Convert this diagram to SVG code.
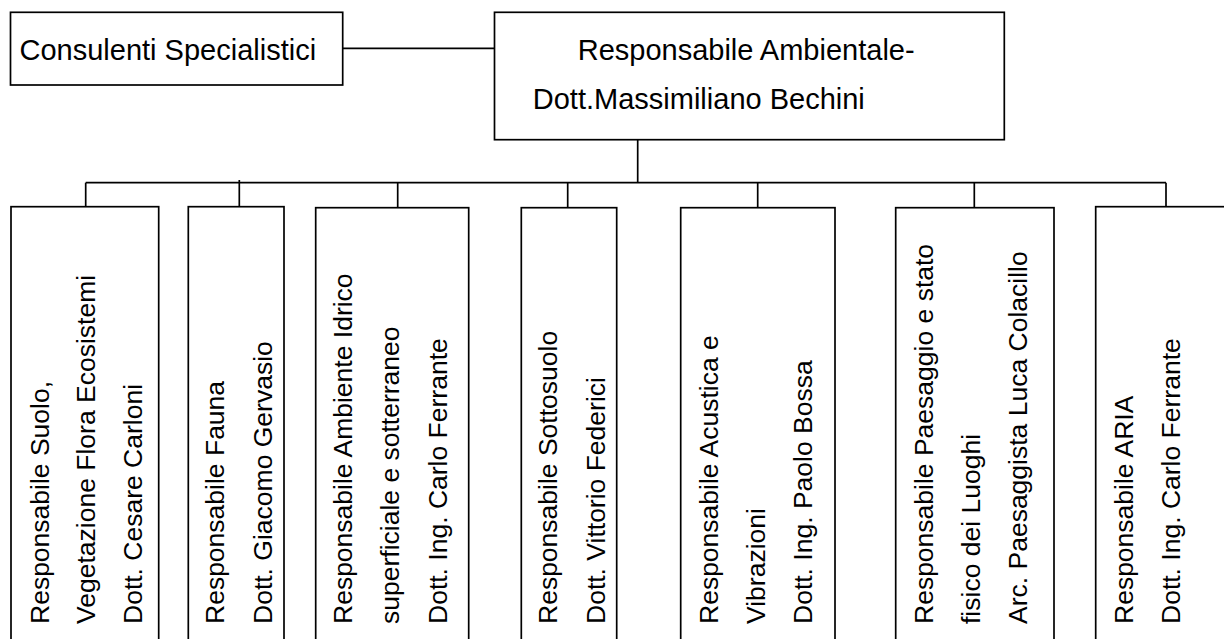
<svg xmlns="http://www.w3.org/2000/svg" width="1224" height="639" viewBox="0 0 1224 639">
<style>
.box{fill:#fff;stroke:#000;stroke-width:1.7}
.ln{fill:none;stroke:#000;stroke-width:1.7}
.h{font-family:"Liberation Sans",Arial,sans-serif;font-size:29px;fill:#000}
.v{font-family:"Liberation Sans",Arial,sans-serif;font-size:26.5px;fill:#000}
</style>
<rect width="1224" height="639" fill="#fff"/>
<g id="connectors">
<path class="ln" d="M342.7 48.3H494.5"/>
<path class="ln" d="M637.7 139.7V182.7"/>
<path class="ln" d="M85.7 182.7H1166"/>
<path class="ln" d="M85.7 182.7V206.7"/>
<path class="ln" d="M239.3 180V206.7"/>
<path class="ln" d="M397.7 182.7V207.7"/>
<path class="ln" d="M567.7 182.7V207.7"/>
<path class="ln" d="M757.7 182.7V207.7"/>
<path class="ln" d="M974.3 182.7V207.7"/>
<path class="ln" d="M1166 182.7V206.7"/>
</g>
<g id="consulenti">
<rect class="box" x="10.5" y="12.3" width="332.2" height="72.7"/>
<text class="h" x="19.5" y="60">Consulenti Specialistici</text>
</g>
<g id="responsabile-ambientale">
<rect class="box" x="494.5" y="12.3" width="509.8" height="127.4"/>
<text class="h" x="577.7" y="59.5">Responsabile Ambientale-</text>
<text class="h" x="532.8" y="109">Dott.Massimiliano Bechini</text>
</g>
<g id="suolo">
<rect class="box" x="11" y="206.7" width="147.7" height="460"/>
<text class="v" transform="translate(48.5,624) rotate(-90)">Responsabile Suolo,</text>
<text class="v" transform="translate(95,624) rotate(-90)">Vegetazione Flora Ecosistemi</text>
<text class="v" transform="translate(141.7,624) rotate(-90)">Dott. Cesare Carloni</text>
</g>
<g id="fauna">
<rect class="box" x="188.3" y="206.7" width="95.7" height="460"/>
<text class="v" transform="translate(224,624) rotate(-90)">Responsabile Fauna</text>
<text class="v" transform="translate(271.7,624) rotate(-90)">Dott. Giacomo Gervasio</text>
</g>
<g id="idrico">
<rect class="box" x="315.7" y="207.7" width="153" height="460"/>
<text class="v" transform="translate(351.7,624) rotate(-90)">Responsabile Ambiente Idrico</text>
<text class="v" transform="translate(399,624) rotate(-90)">superficiale e sotterraneo</text>
<text class="v" transform="translate(446.7,624) rotate(-90)">Dott. Ing. Carlo Ferrante</text>
</g>
<g id="sottosuolo">
<rect class="box" x="521.3" y="207.7" width="95.4" height="460"/>
<text class="v" transform="translate(557.3,624) rotate(-90)">Responsabile Sottosuolo</text>
<text class="v" transform="translate(605,624) rotate(-90)">Dott. Vittorio Federici</text>
</g>
<g id="acustica">
<rect class="box" x="680.7" y="207.7" width="154.3" height="460"/>
<text class="v" transform="translate(717.7,624) rotate(-90)">Responsabile Acustica e</text>
<text class="v" transform="translate(765,624) rotate(-90)">Vibrazioni</text>
<text class="v" transform="translate(812.3,624) rotate(-90)">Dott. Ing. Paolo Bossa</text>
</g>
<g id="paesaggio">
<rect class="box" x="895.7" y="207.7" width="158.3" height="460"/>
<text class="v" transform="translate(932.7,624) rotate(-90)">Responsabile Paesaggio e stato</text>
<text class="v" transform="translate(980,624) rotate(-90)">fisico dei Luoghi</text>
<text class="v" transform="translate(1026.7,624) rotate(-90)">Arc. Paesaggista Luca Colacillo</text>
</g>
<g id="aria">
<rect class="box" x="1095.7" y="206.7" width="200" height="460"/>
<text class="v" transform="translate(1132.7,624) rotate(-90)">Responsabile ARIA</text>
<text class="v" transform="translate(1180,624) rotate(-90)">Dott. Ing. Carlo Ferrante</text>
</g>
</svg>
